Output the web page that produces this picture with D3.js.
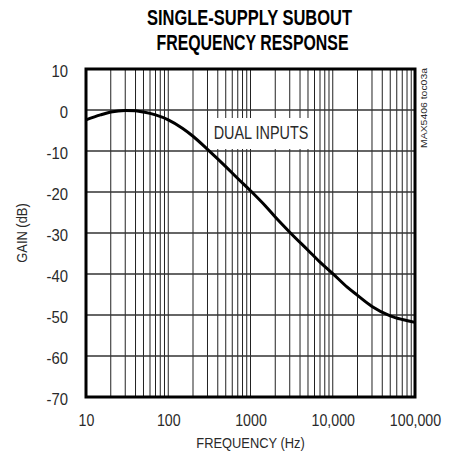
<!DOCTYPE html>
<html>
<head>
<meta charset="utf-8">
<script src="https://cdn.jsdelivr.net/npm/d3@7"></script>
<style>
  html, body { margin: 0; padding: 0; background: #fff; }
  svg { display: block; }
  text { font-family: "Liberation Sans", Arial, sans-serif; fill: #2a2a2a; }
</style>
</head>
<body>
<svg id="chart" width="453" height="454"></svg>
<script>
// ---- data ----
const titleLines = ["SINGLE-SUPPLY SUBOUT", "FREQUENCY RESPONSE"];
const xTickValues = [10, 100, 1000, 10000, 100000];
const xTickLabels = ["10", "100", "1000", "10,000", "100,000"];
const yTickValues = [10, 0, -10, -20, -30, -40, -50, -60, -70];
const yTickLabels = ["10", "0", "-10", "-20", "-30", "-40", "-50", "-60", "-70"];
const frequency = [10, 15, 20, 30, 40, 50, 70, 100, 150, 200, 300, 500, 700, 1000, 1500, 2000, 3000, 5000, 7000, 10000, 15000, 20000, 30000, 50000, 70000, 100000];
const gainDb =    [-2.4, -1.2, -0.5, -0.1, -0.2, -0.5, -1.2, -2.4, -4.5, -6.4, -9.6, -13.8, -16.7, -19.7, -23.3, -26.1, -29.8, -34.2, -37.1, -39.9, -43.2, -45.2, -47.9, -50.2, -51.1, -51.8];
const seriesLabel = "DUAL INPUTS";
const xAxisTitle = "FREQUENCY (Hz)";
const yAxisTitle = "GAIN (dB)";
const partCode = "MAX5406 toc03a";

// narrow helper: condense text horizontally
function narrow(sel, f) {
  sel.each(function () {
    const w = this.getComputedTextLength();
    d3.select(this).attr("textLength", w * f).attr("lengthAdjust", "spacingAndGlyphs");
  });
}

// ---- layout ----
const svg = d3.select("#chart");
const L = 86, R = 415, T = 69, B = 397;
const x = d3.scaleLog().domain([10, 100000]).range([L, R]);
const y = d3.scaleLinear().domain([-70, 10]).range([B, T]);

// title
svg.selectAll("text.title").data(titleLines).enter().append("text")
  .attr("class", "title")
  .attr("x", (d, i) => i === 0 ? 249.5 : 252.5)
  .attr("y", (d, i) => i === 0 ? 25 : 50)
  .attr("text-anchor", "middle")
  .attr("font-size", 22)
  .attr("font-weight", "bold")
  .attr("textLength", (d, i) => i === 0 ? 205 : 192)
  .attr("lengthAdjust", "spacingAndGlyphs")
  .style("fill", "#000")
  .text(d => d);

// grid
const grid = svg.append("g");
const vLines = [];
for (let n = 1; n <= 4; n++) for (let k = 1; k <= 9; k++) vLines.push(k * Math.pow(10, n));
vLines.push(100000);
grid.selectAll("line.v").data(vLines).enter().append("line")
  .attr("x1", d => x(d)).attr("x2", d => x(d))
  .attr("y1", T).attr("y2", B)
  .attr("stroke", "#222").attr("stroke-width", 1);
grid.selectAll("line.h").data(yTickValues).enter().append("line")
  .attr("x1", L).attr("x2", R)
  .attr("y1", d => y(d)).attr("y2", d => y(d))
  .attr("stroke", "#333").attr("stroke-width", 1.3);

// label box
svg.append("rect").attr("x", 209).attr("y", 118).attr("width", 105).attr("height", 31).attr("fill", "#fff");
svg.append("text").attr("x", 261).attr("y", 138.5).attr("text-anchor", "middle")
  .attr("font-size", 18).text(seriesLabel).call(narrow, 0.8);

// curve
const pts = frequency.map((f, i) => [f, gainDb[i]]);
svg.append("path").datum(pts)
  .attr("fill", "none").attr("stroke", "#000").attr("stroke-width", 3)
  .attr("stroke-linejoin", "round")
  .attr("d", d3.line().x(d => x(d[0])).y(d => y(d[1])).curve(d3.curveMonotoneX));

// frame
svg.append("rect").attr("x", L).attr("y", T).attr("width", R - L).attr("height", B - T)
  .attr("fill", "none").attr("stroke", "#000").attr("stroke-width", 3);

// x axis
const xAxis = svg.append("g").attr("transform", `translate(0,${B})`)
  .call(d3.axisBottom(x).tickValues(xTickValues).tickSize(0).tickFormat((d, i) => xTickLabels[i]));
xAxis.select(".domain").remove();
xAxis.selectAll("text").attr("dy", null).attr("y", 29).attr("font-size", 16.5)
  .style("font-family", '"Liberation Sans", Arial, sans-serif').style("fill", "#2a2a2a")
  .call(narrow, 0.86);

// y axis
const yAxis = svg.append("g").attr("transform", `translate(${L},0)`)
  .call(d3.axisLeft(y).tickValues(yTickValues).tickSize(0).tickPadding(18).tickFormat((d, i) => yTickLabels[i]));
yAxis.select(".domain").remove();
yAxis.selectAll("text").attr("dy", null).attr("y", 7.5).attr("font-size", 16.5)
  .style("font-family", '"Liberation Sans", Arial, sans-serif').style("fill", "#2a2a2a")
  .call(narrow, 0.9);

// axis titles
svg.append("text").attr("x", 250.5).attr("y", 447.5).attr("text-anchor", "middle")
  .attr("font-size", 15.5).text(xAxisTitle).call(narrow, 0.83);
svg.append("text").attr("transform", "translate(26.5,233) rotate(-90)")
  .attr("text-anchor", "middle").attr("font-size", 15.5).text(yAxisTitle).call(narrow, 0.83);

// part code
svg.append("text").attr("transform", "translate(426.5,148) rotate(-90)")
  .attr("text-anchor", "start").attr("font-size", 9.5)
  .attr("textLength", 80).attr("lengthAdjust", "spacingAndGlyphs")
  .text(partCode);
</script>
</body>
</html>
